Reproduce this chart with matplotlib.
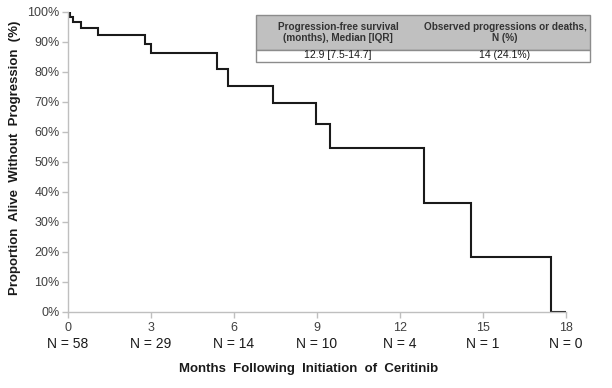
import matplotlib
matplotlib.use("Agg")
import matplotlib.pyplot as plt
from matplotlib.patches import Rectangle

# ---- data ----
times = [0, 0.06, 0.18, 0.46, 1.07, 2.80, 3.01, 5.40, 5.79, 7.42, 8.96, 9.47, 12.86, 14.58, 17.45, 18.0]
surv = [1.0, 0.984, 0.967, 0.946, 0.924, 0.893, 0.862, 0.809, 0.755, 0.697, 0.628, 0.546, 0.365, 0.182, 0.0, 0.0]
xticks = [0, 3, 6, 9, 12, 15, 18]
at_risk = [58, 29, 14, 10, 4, 1, 0]
yticks = [0, 0.1, 0.2, 0.3, 0.4, 0.5, 0.6, 0.7, 0.8, 0.9, 1.0]
table_header = ["Progression-free survival\n(months), Median [IQR]",
                "Observed progressions or deaths,\nN (%)"]
table_values = ["12.9 [7.5-14.7]", "14 (24.1%)"]

plt.rcParams['font.family'] = ['Liberation Sans', 'DejaVu Sans']

fig = plt.figure(figsize=(6.12, 3.88), dpi=100)
ax = fig.add_axes([68/612, 1 - 312/388, (566-68)/612, 300/388])

ax.step(times, surv, where='post', color='#1a1a1a', lw=1.5, solid_joinstyle='miter')

ax.set_xlim(0, 18)
ax.set_ylim(0, 1.0)
ax.set_xticks(xticks)
ax.set_xticklabels([str(t) for t in xticks])
ax.set_yticks(yticks)
ax.set_yticklabels([f"{int(round(v*100))}%" for v in yticks])

for s in ['top', 'right']:
    ax.spines[s].set_visible(False)
for s in ['left', 'bottom']:
    ax.spines[s].set_color('#bfbfbf')
    ax.spines[s].set_linewidth(1.0)
ax.tick_params(axis='both', colors='#bfbfbf', labelcolor='#404040', labelsize=9,
               length=4, width=1.0, direction='out')
ax.tick_params(axis='x', pad=3)
ax.tick_params(axis='y', pad=2)

# at-risk numbers
for t, n in zip(xticks, at_risk):
    ax.text(t, -0.107, f"N = {n}", transform=ax.get_xaxis_transform(),
            ha='center', va='center', fontsize=10, color='#1a1a1a')

fig.text(309/612, 1 - 369/388, "Months  Following  Initiation  of  Ceritinib",
         ha='center', va='center', fontsize=9.5, fontweight='bold', color='#1a1a1a')
fig.text(15/612, 1 - 158/388, "Proportion  Alive  Without  Progression  (%)",
         ha='center', va='center', rotation=90, fontsize=9.5, fontweight='bold', color='#1a1a1a')

# summary table (figure pixel coordinates)
W, H = 612, 388
x0, x1 = 256, 590
ytop, ymid, ybot = 15, 49.5, 61.5
fig.patches.append(Rectangle((x0/W, 1 - ymid/H), (x1-x0)/W, (ymid-ytop)/H,
                             transform=fig.transFigure, facecolor='#c0c0c0',
                             edgecolor='#8c8c8c', lw=1.0))
fig.patches.append(Rectangle((x0/W, 1 - ybot/H), (x1-x0)/W, (ybot-ymid)/H,
                             transform=fig.transFigure, facecolor='white',
                             edgecolor='#8c8c8c', lw=1.0))
col_centers = [338, 505]
for cx, h, v in zip(col_centers, table_header, table_values):
    fig.text(cx/W, 1 - (ytop+ymid)/2/H, h, ha='center', va='center', fontsize=7.2,
             fontweight='bold', color='#333333', linespacing=1.15)
    fig.text(cx/W, 1 - (ymid+ybot)/2/H, v, ha='center', va='center', fontsize=7.5,
             color='#1a1a1a')

fig.savefig("out.png", dpi=100)
